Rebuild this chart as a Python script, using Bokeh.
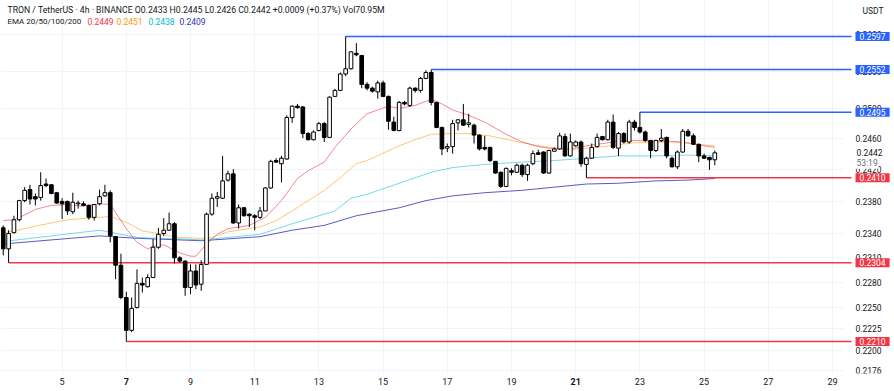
import numpy as np
from bokeh.plotting import figure
from bokeh.models import Range1d, FixedTicker, Label, Grid, BoxAnnotation
from bokeh.embed import file_html
from bokeh.resources import INLINE

# ---------------- data (TRON / TetherUS, 4h bars) ----------------
first_bar_day = 3 + 4 / 24.0      # first bar: day 3, 04:00
bar_days = 4 / 24.0

opens = [0.2347,0.2321,0.2341,0.2357,0.2381,0.2395,0.2386,0.2385,0.2402,0.2401,
         0.2391,0.2380,0.2380,0.2367,0.2377,0.2377,0.2375,0.2360,0.2377,0.2387,
         0.2391,0.2336,0.2301,0.2262,0.2223,0.2250,0.2279,0.2275,0.2286,0.2323,
         0.2340,0.2344,0.2352,0.2310,0.2306,0.2274,0.2294,0.2278,0.2302,0.2364,
         0.2384,0.2384,0.2407,0.2415,0.2353,0.2372,0.2364,0.2362,0.2360,0.2368,
         0.2397,0.2432,0.2428,0.2434,0.2488,0.2503,0.2502,0.2467,0.2459,0.2471,
         0.2480,0.2462,0.2516,0.2524,0.2546,0.2553,0.2574,0.2571,0.2532,0.2527,
         0.2522,0.2534,0.2516,0.2482,0.2471,0.2508,0.2504,0.2527,0.2524,0.2540,
         0.2548,0.2508,0.2475,0.2448,0.2450,0.2481,0.2485,0.2479,0.2478,0.2465,
         0.2449,0.2449,0.2431,0.2417,0.2399,0.2419,0.2417,0.2426,0.2414,0.2428,
         0.2442,0.2443,0.2416,0.2444,0.2447,0.2463,0.2438,0.2451,0.2456,0.2427,
         0.2435,0.2450,0.2463,0.2459,0.2482,0.2448,0.2467,0.2456,0.2482,0.2475,
         0.2469,0.2458,0.2445,0.2458,0.2462,0.2435,0.2424,0.2443,0.2470,0.2464,
         0.2453,0.2438,0.2436,0.2433]
highs = [0.2350,0.2344,0.2362,0.2382,0.2398,0.2401,0.2390,0.2417,0.2409,0.2402,
         0.2392,0.2384,0.2381,0.2391,0.2381,0.2380,0.2376,0.2377,0.2395,0.2401,
         0.2394,0.2337,0.2315,0.2269,0.2262,0.2296,0.2286,0.2290,0.2333,0.2347,
         0.2359,0.2366,0.2354,0.2312,0.2307,0.2302,0.2302,0.2307,0.2366,0.2390,
         0.2392,0.2438,0.2419,0.2421,0.2376,0.2373,0.2365,0.2364,0.2373,0.2398,
         0.2433,0.2435,0.2438,0.2491,0.2504,0.2506,0.2503,0.2469,0.2471,0.2482,
         0.2482,0.2516,0.2526,0.2548,0.2597,0.2577,0.2588,0.2572,0.2535,0.2529,
         0.2537,0.2537,0.2517,0.2489,0.2510,0.2510,0.2529,0.2528,0.2542,0.2551,
         0.2552,0.2509,0.2476,0.2454,0.2485,0.2486,0.2506,0.2493,0.2480,0.2466,
         0.2464,0.2450,0.2431,0.2418,0.2423,0.2422,0.2428,0.2428,0.2428,0.2445,
         0.2446,0.2444,0.2446,0.2449,0.2468,0.2467,0.2467,0.2458,0.2458,0.2437,
         0.2454,0.2467,0.2464,0.2485,0.2492,0.2469,0.2469,0.2485,0.2485,0.2495,
         0.2471,0.2459,0.2459,0.2473,0.2463,0.2437,0.2445,0.2473,0.2473,0.2467,
         0.2454,0.2441,0.2437,0.2445]
lows = [0.2313,0.2304,0.2340,0.2355,0.2379,0.2376,0.2375,0.2381,0.2398,0.2389,
        0.2377,0.2358,0.2363,0.2364,0.2371,0.2374,0.2357,0.2356,0.2375,0.2386,
        0.2329,0.2284,0.2260,0.2210,0.2221,0.2249,0.2268,0.2274,0.2286,0.2321,
        0.2337,0.2343,0.2303,0.2304,0.2264,0.2266,0.2272,0.2270,0.2302,0.2362,
        0.2373,0.2383,0.2405,0.2352,0.2346,0.2361,0.2348,0.2344,0.2358,0.2368,
        0.2396,0.2429,0.2404,0.2433,0.2481,0.2500,0.2461,0.2458,0.2458,0.2470,
        0.2456,0.2462,0.2515,0.2523,0.2543,0.2552,0.2570,0.2527,0.2524,0.2521,
        0.2513,0.2515,0.2472,0.2470,0.2470,0.2504,0.2502,0.2521,0.2521,0.2539,
        0.2504,0.2474,0.2439,0.2443,0.2441,0.2471,0.2477,0.2475,0.2454,0.2445,
        0.2445,0.2430,0.2415,0.2397,0.2398,0.2413,0.2416,0.2411,0.2406,0.2426,
        0.2439,0.2415,0.2415,0.2444,0.2446,0.2437,0.2437,0.2450,0.2424,0.2410,
        0.2434,0.2449,0.2458,0.2458,0.2447,0.2438,0.2454,0.2454,0.2471,0.2467,
        0.2456,0.2435,0.2443,0.2456,0.2435,0.2423,0.2421,0.2442,0.2463,0.2452,
        0.2430,0.2434,0.2420,0.2426]
closes = [0.2321,0.2340,0.2357,0.2381,0.2394,0.2383,0.2383,0.2400,0.2400,0.2390,
          0.2378,0.2377,0.2368,0.2379,0.2378,0.2375,0.2360,0.2376,0.2386,0.2391,
          0.2337,0.2301,0.2262,0.2223,0.2249,0.2279,0.2277,0.2286,0.2323,0.2339,
          0.2344,0.2352,0.2310,0.2306,0.2274,0.2294,0.2277,0.2302,0.2364,0.2384,
          0.2386,0.2406,0.2415,0.2353,0.2372,0.2362,0.2362,0.2360,0.2368,0.2397,
          0.2431,0.2430,0.2435,0.2488,0.2503,0.2501,0.2467,0.2459,0.2469,0.2480,
          0.2462,0.2515,0.2524,0.2546,0.2553,0.2576,0.2572,0.2532,0.2527,0.2523,
          0.2534,0.2516,0.2483,0.2471,0.2508,0.2506,0.2527,0.2524,0.2540,0.2548,
          0.2508,0.2475,0.2447,0.2450,0.2480,0.2485,0.2478,0.2481,0.2465,0.2447,
          0.2447,0.2432,0.2416,0.2399,0.2422,0.2417,0.2426,0.2414,0.2426,0.2441,
          0.2440,0.2416,0.2445,0.2447,0.2464,0.2438,0.2456,0.2456,0.2428,0.2435,
          0.2449,0.2462,0.2459,0.2482,0.2449,0.2467,0.2456,0.2482,0.2475,0.2469,
          0.2458,0.2445,0.2458,0.2461,0.2438,0.2424,0.2443,0.2470,0.2464,0.2453,
          0.2438,0.2435,0.2433,0.2442]

# EMA readings (bar index -> value)
ema20_idx = [0,2,4,6,9,12,15,18,20,21,23,25,27,28,30,33,35,36,38,40,42,46,49,52,55,
             57,60,62,65,68,72,74,77,80,82,84,87,90,94,97,100,103,106,109,112,115,
             118,122,125,128,131,133]
ema20_val = [0.2356,0.2357,0.2363,0.2370,0.2375,0.2376,0.2374,0.2377,0.2376,0.2366,
             0.2346,0.2329,0.2321,0.2324,0.2326,0.2316,0.2312,0.2312,0.2327,0.2339,
             0.2346,0.2350,0.2360,0.2381,0.2409,0.2419,0.2430,0.2449,0.2473,0.2493,
             0.2503,0.2500,0.2504,0.2512,0.2506,0.2498,0.2491,0.2482,0.2466,0.2456,
             0.2450,0.2447,0.2447,0.2451,0.2454,0.2457,0.2458,0.2457,0.2457,0.2455,
             0.2451,0.2449]
ema50_idx = [0,2,6,12,18,20,23,26,28,31,33,37,39,42,48,51,54,57,60,63,66,68,74,77,80,
             84,87,91,95,100,106,112,118,125,133]
ema50_val = [0.2341,0.2343,0.2349,0.2357,0.2360,0.2361,0.2354,0.2343,0.2341,0.2337,
             0.2335,0.2334,0.2335,0.2342,0.2348,0.2356,0.2368,0.2381,0.2394,0.2410,
             0.2428,0.2432,0.2451,0.2459,0.2466,0.2467,0.2467,0.2464,0.2458,0.2451,
             0.2446,0.2450,0.2455,0.2456,0.2451]
ema100_idx = [0,18,25,34,37,42,48,54,62,65,68,74,80,84,90,97,103,109,115,122,128,133]
ema100_val = [0.2330,0.2344,0.2335,0.2333,0.2332,0.2335,0.2339,0.2352,0.2368,0.2384,
              0.2389,0.2403,0.2417,0.2423,0.2427,0.2430,0.2432,0.2435,0.2438,0.2438,
              0.2439,0.2438]
ema200_idx = [0,18,25,37,48,54,60,66,74,79,84,90,97,103,109,115,122,128,133]
ema200_val = [0.2327,0.2337,0.2334,0.2331,0.2336,0.2344,0.2350,0.2362,0.2372,0.2381,
              0.2387,0.2391,0.2394,0.2398,0.2402,0.2403,0.2406,0.2407,0.2409]

# horizontal levels: price, bar where the ray starts, kind
levels = [0.2597, 0.2552, 0.2495, 0.2410, 0.2304, 0.2210]
level_start = [64, 80, 119, 109, 1, 23]
level_kind = ["res", "res", "res", "sup", "sup", "sup"]

price_ticks = [0.2176, 0.2200, 0.2225, 0.2250, 0.2280, 0.2310, 0.2340, 0.2380,
               0.2420, 0.2460, 0.2500, 0.2550, 0.2600]
day_ticks = [5, 7, 9, 11, 13, 15, 17, 19, 21, 23, 25, 27, 29]
bold_days = [7, 21]

header1 = "TRON / TetherUS · 4h · BINANCE  O0.2433  H0.2445  L0.2426  C0.2442  +0.0009 (+0.37%)  Vol70.95M"
ema_names = "EMA 20/50/100/200"
last_price = "0.2442"
countdown = "53:19"

# ---------------- styling ----------------
FONT = "Roboto"
TXT = "#131722"
GRID = "#f0f3fa"
BLUE = "#2962ff"
RED = "#f23645"
C20, C50, C100, C200 = "#f23645", "#ff9800", "#00bcd4", "#3131b8"

n = len(opens)
t = first_bar_day + np.arange(n) * bar_days
o = np.array(opens); c = np.array(closes); h = np.array(highs); l = np.array(lows)
top = np.maximum(o, c); bot = np.minimum(o, c)
fills = ["white" if cc >= oo else "black" for oo, cc in zip(o, c)]

# view (the frame covers the whole canvas; price scale and time scale drawn inside)
X0, X1 = 3.0810, 30.9315          # left / right edge of canvas (days)
XA = 29.3427                      # where the price scale begins
XL = 29.5919                      # where level rays meet their price tags
Y0, Y1 = 0.215227, 0.264694       # bottom / top edge of canvas (price, log)
W, H = 894, 391
SCALE_X = 855                     # screen x of price scale text
TIME_BAND = 18                    # height of time scale band (screen px)

p = figure(frame_width=W, frame_height=H,
           x_range=Range1d(X0, X1), y_range=Range1d(Y0, Y1),
           y_axis_type="log", x_axis_location=None, y_axis_location=None,
           output_backend="svg", toolbar_location=None,
           min_border_left=0, min_border_top=0, min_border_right=0,
           min_border_bottom=0)
p.outline_line_color = None
p.background_fill_color = "white"
p.border_fill_color = "white"
p.grid.visible = False

p.add_layout(Grid(dimension=0, ticker=FixedTicker(ticks=day_ticks), grid_line_color=GRID))
p.add_layout(Grid(dimension=1, ticker=FixedTicker(ticks=price_ticks), grid_line_color=GRID))
# blank price-scale and time-scale areas (cover grid lines only)
p.add_layout(BoxAnnotation(left=XA, fill_color="white", fill_alpha=1, line_color=None,
                           level="underlay"))
p.add_layout(BoxAnnotation(top=TIME_BAND, top_units="screen", fill_color="white", fill_alpha=1,
                           line_color=None, level="underlay"))

# EMAs
for idx, vals, col, a in [(ema200_idx, ema200_val, C200, 0.8), (ema100_idx, ema100_val, C100, 0.55),
                          (ema50_idx, ema50_val, C50, 0.55), (ema20_idx, ema20_val, C20, 0.6)]:
    p.line(t[np.array(idx)], vals, line_color=col, line_alpha=a, line_width=1)

# level rays
for price, s, kind in zip(levels, level_start, level_kind):
    p.segment(x0=t[s], y0=price, x1=XL, y1=price,
              line_color=BLUE if kind == "res" else RED, line_width=1.5)

# candles
p.segment(x0=t, y0=l, x1=t, y1=h, line_color="black", line_width=1)
p.vbar(x=t, width=bar_days * 0.68, top=top, bottom=bot,
       fill_color=fills, line_color="black", line_width=1)

def lab(**kw):
    base = dict(text_font=FONT, text_color=TXT, text_baseline="middle", text_align="left")
    base.update(kw)
    p.add_layout(Label(**base))

# header
lab(x=7, y=H - 9, x_units="screen", y_units="screen", text=header1, text_font_size="8.7px")
lab(x=7, y=H - 21, x_units="screen", y_units="screen", text=ema_names, text_font_size="8px")
for xs, v, col in zip([87, 116, 148, 179], [ema20_val[-1], ema50_val[-1], ema100_val[-1], ema200_val[-1]],
                      [C20, C50, C100, C200]):
    lab(x=xs, y=H - 21, x_units="screen", y_units="screen", text=f"{v:.4f}",
        text_font_size="8.5px", text_color=col)

# price scale
lab(x=862, y=H - 10, x_units="screen", y_units="screen", text="USDT", text_font_size="8.5px")
for tk in price_ticks:
    lab(x=SCALE_X, y=tk, x_units="screen", y_units="data", text=f"{tk:.4f}", text_font_size="8.5px")
lab(x=SCALE_X, y=closes[-1], x_units="screen", y_units="data", text=last_price,
    text_font_size="8.5px", background_fill_color="white", padding=dict(x=1, y=1))
lab(x=SCALE_X, y=closes[-1], y_offset=-10, x_units="screen", y_units="data", text=countdown,
    text_font_size="8.5px", text_color="#6a6d78", background_fill_color="white",
    padding=dict(x=1, y=1))
for price, kind in zip(levels, level_kind):
    lab(x=SCALE_X, y=price, x_units="screen", y_units="data", text=f"{price:.4f}",
        text_font_size="8.5px", text_color="white",
        background_fill_color=BLUE if kind == "res" else RED, padding=dict(x=4, y=1))

# time scale band (hides the bottom of the lowest price label)
p.add_layout(BoxAnnotation(left=XA, top=TIME_BAND, top_units="screen", fill_color="white",
                           fill_alpha=1, line_color=None))
for d in day_ticks:
    lab(x=d, y=10, x_units="data", y_units="screen", text=str(d), text_font_size="9px",
        text_align="center", text_font_style="bold" if d in bold_days else "normal")

open("out.html", "w").write(file_html(p, INLINE))
